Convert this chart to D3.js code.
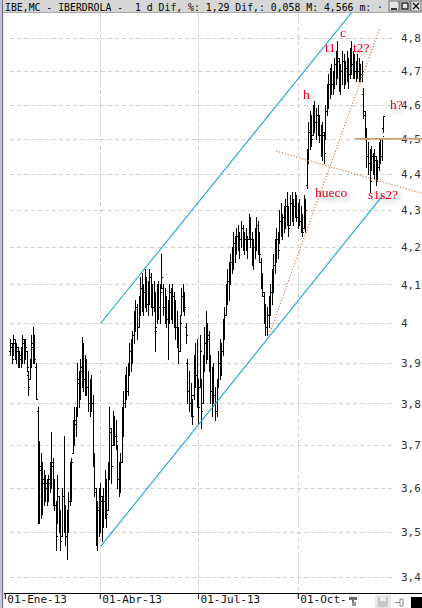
<!DOCTYPE html>
<html>
<head>
<meta charset="utf-8">
<script src="https://cdn.jsdelivr.net/npm/d3@7"></script>
<style>
  html, body { margin: 0; padding: 0; background: #ffffff; }
  svg { display: block; }
</style>
</head>
<body>
<svg id="chart" width="422" height="608"></svg>
<script>
// Daily OHLC bars, IBE.MC (Iberdrola), 2013
const highs = [
  3.96,3.95,3.97,3.96,3.95,3.94,3.93,3.94,3.97,3.96,3.96,3.93,3.88,3.91,3.97,3.99,3.97,3.90,3.79,3.71,
  3.68,3.66,3.64,3.63,3.62,3.63,3.66,3.73,3.67,3.62,3.57,3.63,3.58,3.55,3.60,3.72,3.56,3.55,3.59,3.66,
  3.67,3.76,3.79,3.79,3.90,3.88,3.91,3.965,3.95,3.92,3.91,3.88,3.86,3.87,3.82,3.68,3.60,3.57,3.60,3.61,
  3.58,3.60,3.64,3.62,3.66,3.79,3.74,3.78,3.77,3.76,3.70,3.66,3.68,3.79,3.83,3.87,3.89,3.90,3.95,3.96,
  3.98,4.03,4.06,4.05,4.07,4.12,4.13,4.10,4.14,4.12,4.11,4.14,4.13,4.10,4.11,4.08,4.10,4.11,4.10,4.18,
  4.10,4.09,4.07,4.06,4.10,4.09,4.10,4.08,4.06,4.03,3.99,4.02,4.09,4.10,4.08,4.00,3.91,3.88,3.85,3.81,
  3.92,3.95,3.96,3.86,3.97,3.86,3.92,3.99,4.03,4.00,3.98,3.92,3.89,3.90,3.84,3.86,3.93,3.96,3.95,4.01,
  4.04,4.10,4.14,4.16,4.18,4.20,4.24,4.23,4.25,4.26,4.24,4.27,4.26,4.24,4.25,4.23,4.29,4.28,4.24,4.22,
  4.25,4.28,4.27,4.24,4.17,4.13,4.08,4.05,4.04,4.07,4.10,4.14,4.18,4.22,4.25,4.24,4.30,4.32,4.29,4.31,
  4.33,4.35,4.31,4.34,4.35,4.33,4.35,4.34,4.32,4.33,4.31,4.29,4.34,4.33,4.47,4.55,4.58,4.57,4.60,4.61,
  4.59,4.60,4.57,4.54,4.55,4.52,4.60,4.66,4.69,4.71,4.72,4.70,4.74,4.76,4.79,4.74,4.72,4.76,4.75,4.73,
  4.76,4.74,4.77,4.79,4.76,4.75,4.73,4.75,4.74,4.72,4.73,4.65,4.58,4.53,4.49,4.47,4.48,4.46,4.47,4.45,
  4.44,4.49,4.50,4.50,4.566
];
const lows = [
  3.92,3.90,3.92,3.91,3.90,3.89,3.89,3.89,3.90,3.90,3.91,3.88,3.82,3.86,3.89,3.90,3.90,3.81,3.52,3.52,
  3.53,3.54,3.56,3.57,3.56,3.57,3.59,3.60,3.56,3.55,3.46,3.52,3.50,3.46,3.49,3.50,3.47,3.44,3.50,3.56,
  3.57,3.68,3.70,3.72,3.77,3.79,3.81,3.84,3.83,3.82,3.82,3.78,3.77,3.78,3.65,3.58,3.47,3.46,3.49,3.50,
  3.48,3.51,3.53,3.51,3.55,3.62,3.61,3.70,3.70,3.69,3.60,3.58,3.59,3.66,3.72,3.79,3.81,3.82,3.87,3.88,
  3.90,3.95,3.98,3.96,3.99,4.02,4.03,4.02,4.04,4.03,4.02,4.05,4.04,4.02,4.03,3.93,4.00,4.01,4.00,4.09,
  4.02,4.00,3.99,3.91,4.00,4.01,4.00,3.99,3.96,3.94,3.90,3.93,4.02,4.03,4.02,3.95,3.80,3.78,3.77,3.75,
  3.81,3.84,3.79,3.75,3.84,3.74,3.80,3.88,3.90,3.91,3.88,3.80,3.77,3.80,3.76,3.77,3.84,3.86,3.87,3.92,
  3.96,4.02,4.05,4.06,4.10,4.13,4.14,4.16,4.18,4.19,4.17,4.20,4.19,4.18,4.19,4.17,4.22,4.20,4.15,4.14,
  4.17,4.19,4.18,4.16,4.09,4.07,4.00,3.97,3.97,3.99,4.02,4.05,4.08,4.13,4.16,4.17,4.21,4.23,4.22,4.24,
  4.25,4.26,4.23,4.26,4.27,4.26,4.28,4.27,4.25,4.26,4.24,4.23,4.25,4.24,4.36,4.43,4.47,4.48,4.51,4.52,
  4.50,4.51,4.49,4.45,4.44,4.43,4.50,4.57,4.59,4.62,4.63,4.63,4.65,4.66,4.68,4.64,4.63,4.66,4.65,4.66,
  4.67,4.65,4.68,4.69,4.68,4.68,4.67,4.68,4.67,4.67,4.67,4.56,4.50,4.42,4.40,4.35,4.41,4.40,4.39,4.37,
  4.38,4.41,4.43,4.44,4.52
];
const opens = [
  3.93,3.94,3.92,3.95,3.92,3.93,3.90,3.91,3.92,3.95,3.92,3.93,3.87,3.86,3.90,3.94,3.96,3.89,3.78,3.55,
  3.64,3.58,3.61,3.58,3.60,3.58,3.61,3.64,3.65,3.58,3.56,3.50,3.58,3.52,3.49,3.58,3.53,3.49,3.52,3.57,
  3.62,3.68,3.74,3.75,3.78,3.85,3.82,3.88,3.93,3.86,3.88,3.84,3.80,3.83,3.80,3.67,3.59,3.50,3.55,3.52,
  3.57,3.51,3.57,3.60,3.55,3.64,3.73,3.70,3.76,3.72,3.70,3.62,3.61,3.66,3.77,3.80,3.85,3.83,3.88,3.93,
  3.91,3.97,4.01,4.04,3.99,4.05,4.09,4.06,4.08,4.11,4.05,4.09,4.12,4.06,4.04,4.07,3.99,4.07,4.04,4.10,
  4.09,4.04,4.06,4.01,4.03,4.08,4.03,4.07,4.01,3.99,3.96,3.93,4.02,4.07,4.05,3.99,3.90,3.83,3.80,3.80,
  3.82,3.89,3.87,3.82,3.84,3.85,3.80,3.89,3.95,3.93,3.96,3.90,3.83,3.86,3.82,3.78,3.84,3.90,3.89,3.93,
  3.99,4.02,4.08,4.11,4.14,4.16,4.18,4.21,4.19,4.23,4.21,4.22,4.25,4.21,4.22,4.20,4.22,4.27,4.22,4.17,
  4.20,4.23,4.26,4.20,4.16,4.11,4.07,4.02,3.99,4.02,4.05,4.08,4.12,4.15,4.20,4.22,4.20,4.27,4.25,4.28,
  4.26,4.31,4.28,4.26,4.32,4.29,4.31,4.33,4.28,4.30,4.27,4.28,4.25,4.32,4.37,4.44,4.52,4.55,4.51,4.58,
  4.55,4.57,4.53,4.51,4.47,4.51,4.50,4.58,4.64,4.66,4.69,4.66,4.68,4.72,4.70,4.73,4.67,4.70,4.73,4.68,
  4.71,4.73,4.69,4.75,4.72,4.74,4.70,4.72,4.70,4.71,4.69,4.63,4.57,4.52,4.45,4.43,4.39,4.45,4.42,4.44,
  4.40,4.42,4.47,4.45,4.53
];
const closes = [
  3.95,3.91,3.96,3.92,3.94,3.90,3.92,3.93,3.96,3.91,3.94,3.89,3.84,3.90,3.95,3.96,3.91,3.81,3.56,3.65,
  3.58,3.62,3.58,3.61,3.57,3.62,3.64,3.66,3.58,3.56,3.49,3.60,3.52,3.48,3.58,3.53,3.49,3.52,3.57,3.63,
  3.66,3.74,3.76,3.77,3.86,3.82,3.89,3.93,3.86,3.89,3.84,3.80,3.83,3.80,3.67,3.60,3.50,3.55,3.52,3.58,
  3.51,3.57,3.60,3.54,3.64,3.74,3.65,3.76,3.72,3.71,3.62,3.61,3.66,3.77,3.80,3.85,3.83,3.88,3.93,3.91,
  3.97,4.01,4.04,3.99,4.05,4.09,4.06,4.08,4.12,4.05,4.09,4.12,4.06,4.04,4.08,3.98,4.07,4.04,4.08,4.12,
  4.04,4.07,4.01,4.03,4.08,4.03,4.07,4.01,3.99,3.96,3.93,4.00,4.07,4.05,4.04,3.97,3.83,3.80,3.82,3.77,
  3.89,3.87,3.82,3.79,3.93,3.78,3.89,3.95,3.93,3.97,3.90,3.83,3.86,3.82,3.78,3.84,3.90,3.89,3.93,3.99,
  4.02,4.08,4.11,4.14,4.16,4.18,4.21,4.19,4.23,4.21,4.22,4.25,4.21,4.22,4.20,4.22,4.27,4.22,4.17,4.20,
  4.23,4.26,4.20,4.18,4.11,4.08,4.02,3.99,4.02,4.05,4.08,4.12,4.15,4.20,4.22,4.19,4.27,4.25,4.28,4.26,
  4.31,4.28,4.25,4.32,4.29,4.31,4.33,4.28,4.30,4.27,4.29,4.24,4.32,4.30,4.44,4.52,4.55,4.50,4.58,4.55,
  4.57,4.53,4.51,4.47,4.52,4.46,4.58,4.64,4.66,4.69,4.66,4.68,4.72,4.70,4.74,4.67,4.70,4.73,4.68,4.71,
  4.74,4.69,4.75,4.72,4.74,4.70,4.72,4.70,4.72,4.69,4.70,4.58,4.52,4.45,4.43,4.38,4.45,4.42,4.45,4.40,
  4.42,4.47,4.45,4.508,4.566
];

// Price levels on the right axis
const priceTicks = [3.4,3.5,3.6,3.7,3.8,3.9,4.0,4.1,4.2,4.3,4.4,4.5,4.6,4.7,4.8];
// Month markers, given as positions on the bar index
const monthTickIdx = [-3.4, 58.7, 122.9, 188.1];
const monthLabels = ["01-Ene-13", "01-Abr-13", "01-Jul-13", "01-Oct-13"];

// Drawn studies: [barIndex, price] anchor pairs
const channelUpper = [[59.4, 4.0], [225, 4.889]];
const channelLower = [[59.4, 3.468], [243.8, 4.341]];
const steepSupport = [[168.6, 3.962], [241.8, 4.831]];
const neckline = [[173.9, 4.465], [269.3, 4.346]];
const level450 = [[225.5, 4.5], [269.3, 4.5]];

// Pattern labels
const notes = [
  { t: "c", i: 215.7, p: 4.803 },
  { t: "t1", i: 205.9, p: 4.757 },
  { t: "t2?", i: 224.2, p: 4.757 },
  { t: "h", i: 191.5, p: 4.617 },
  { t: "h?", i: 248.4, p: 4.587 },
  { t: "hueco", i: 199.3, p: 4.336 },
  { t: "s1s2?", i: 234.0, p: 4.33 }
];

const svg = d3.select("#chart");
const W = 422, H = 608;

const x = d3.scaleLinear().domain([0, 244]).range([10, 383.3]);
const y = d3.scaleLog().domain([3.4, 4.8]).range([577, 38]);

const fmt = v => (Math.abs(v - Math.round(v)) < 1e-9 ? String(Math.round(v)) : v.toFixed(1).replace(".", ","));
const px = v => Math.round(v) + 0.5;

// defs: clip to the plot area and a soft shadow for the notes
const defs = svg.append("defs");
defs.append("clipPath").attr("id", "plotClip")
  .append("rect").attr("x", 4).attr("y", 13).attr("width", W - 4).attr("height", 580);
const sh = defs.append("filter").attr("id", "noteShadow")
  .attr("x", "-50%").attr("y", "-50%").attr("width", "220%").attr("height", "220%");
sh.append("feGaussianBlur").attr("in", "SourceAlpha").attr("stdDeviation", 2.6).attr("result", "b");
sh.append("feOffset").attr("in", "b").attr("dx", 3).attr("dy", 3).attr("result", "o");
sh.append("feComponentTransfer").attr("in", "o").attr("result", "s")
  .append("feFuncA").attr("type", "linear").attr("slope", 0.35);
const mg = sh.append("feMerge");
mg.append("feMergeNode").attr("in", "s");
mg.append("feMergeNode").attr("in", "SourceGraphic");

// Left window frame
svg.append("rect").attr("x", 0).attr("y", 0).attr("width", 2).attr("height", H).attr("fill", "#c9c3d6");
svg.append("rect").attr("x", 2).attr("y", 0).attr("width", 1.2).attr("height", H).attr("fill", "#76708a");

// Horizontal grid
svg.append("g").selectAll("line").data(priceTicks).join("line")
  .attr("x1", 10).attr("x2", 394)
  .attr("y1", d => px(y(d))).attr("y2", d => px(y(d)))
  .attr("stroke", "#d2d2d2").attr("stroke-dasharray", "4,3");

// Vertical grid at month markers (except the first)
svg.append("g").selectAll("line").data(monthTickIdx.slice(1)).join("line")
  .attr("x1", d => px(x(d))).attr("x2", d => px(x(d)))
  .attr("y1", 13).attr("y2", 593)
  .attr("stroke", "#d2d2d2").attr("stroke-dasharray", "4,3");

// Price axis labels
const yAxis = d3.axisRight(y).tickValues(priceTicks).tickFormat(fmt).tickSize(0).tickPadding(0);
const gy = svg.append("g").attr("transform", "translate(401,0)").call(yAxis);
gy.select(".domain").remove();
gy.selectAll("text").attr("font-family", "DejaVu Sans Mono, monospace").attr("font-size", 11)
  .attr("fill", "#333").attr("dy", "0.36em");

// OHLC bars
const bars = d3.range(highs.length).map(i => ({ i, o: opens[i], h: highs[i], l: lows[i], c: closes[i] }));
const gb = svg.append("g").attr("clip-path", "url(#plotClip)").attr("stroke", "#000")
  .attr("shape-rendering", "crispEdges").attr("stroke-width", 1);
gb.selectAll("line.hl").data(bars).join("line").attr("class", "hl")
  .attr("x1", d => px(x(d.i))).attr("x2", d => px(x(d.i)))
  .attr("y1", d => Math.round(y(d.h))).attr("y2", d => Math.round(y(d.l)) + 1);
gb.selectAll("line.op").data(bars).join("line").attr("class", "op")
  .attr("x1", d => Math.round(x(d.i)) - 1).attr("x2", d => Math.round(x(d.i)))
  .attr("y1", d => px(y(d.o))).attr("y2", d => px(y(d.o)));
gb.selectAll("line.cl").data(bars).join("line").attr("class", "cl")
  .attr("x1", d => Math.round(x(d.i)) + 1).attr("x2", d => Math.round(x(d.i)) + 2)
  .attr("y1", d => px(y(d.c))).attr("y2", d => px(y(d.c)));

// Studies
const seg = d3.line().x(d => x(d[0])).y(d => y(d[1]));
const gs = svg.append("g").attr("clip-path", "url(#plotClip)").attr("fill", "none");
[channelUpper, channelLower].forEach(s =>
  gs.append("path").attr("d", seg(s)).attr("stroke", "#19a6de").attr("stroke-width", 1.1));
[steepSupport, neckline].forEach(s =>
  gs.append("path").attr("d", seg(s)).attr("stroke", "#cf9468").attr("stroke-width", 1.3)
    .attr("stroke-dasharray", "1.3,1.7"));
gs.append("path").attr("d", seg(level450)).attr("stroke", "#d39c74").attr("stroke-width", 1.6);

// Pattern notes
svg.append("g").selectAll("text").data(notes).join("text")
  .attr("x", d => x(d.i)).attr("y", d => y(d.p))
  .attr("font-family", "Liberation Serif, Times New Roman, serif").attr("font-size", 13.5)
  .attr("fill", "#e3001b").attr("filter", "url(#noteShadow)")
  .text(d => d.t);

// Time axis
const xAxis = d3.axisBottom(x).tickValues(monthTickIdx)
  .tickFormat((d, k) => monthLabels[k]).tickSize(6).tickPadding(0);
const gx = svg.append("g").attr("transform", "translate(0,593)").call(xAxis);
gx.select(".domain").attr("d", "M4,0.5H" + W).attr("stroke", "#000");
gx.selectAll(".tick line").attr("stroke", "#000");
gx.selectAll("text").attr("font-family", "DejaVu Sans Mono, monospace").attr("font-size", 11)
  .attr("fill", "#111").attr("text-anchor", "start").attr("x", 2).attr("y", 2).attr("dy", "0.71em");

// Toolbar corner
const tb = svg.append("g");
tb.append("rect").attr("x", 347.5).attr("y", 594).attr("width", 75).attr("height", 14).attr("fill", "#fff");
tb.append("path").attr("d", "M349,597h8v3h-3v2h-2v-2h-3z").attr("fill", "#6d6d6d");
tb.append("path").attr("d", "M352,602h4v4h-4z").attr("fill", "#9a9a9a");
tb.append("rect").attr("x", 375).attr("y", 595).attr("width", 16).attr("height", 13).attr("fill", "#e6e6e6");
tb.append("rect").attr("x", 378).attr("y", 597).attr("width", 10).attr("height", 10).attr("fill", "#c8c8c8");
tb.append("rect").attr("x", 380).attr("y", 597).attr("width", 6).attr("height", 4).attr("fill", "#eee");
tb.append("path").attr("d", "M395,602.5h5M400,599v7M400,599h3v7h-3").attr("stroke", "#888").attr("fill", "none");
tb.append("rect").attr("x", 411).attr("y", 597).attr("width", 11).attr("height", 11).attr("fill", "#000");

// Title bar
svg.append("rect").attr("x", 3).attr("y", 0).attr("width", W - 3).attr("height", 13).attr("fill", "#d6d6d6");
svg.append("line").attr("x1", 3).attr("x2", W).attr("y1", 12.5).attr("y2", 12.5).attr("stroke", "#a8a8a8");
svg.append("text").attr("x", 5).attr("y", 10.5)
  .attr("font-family", "DejaVu Sans Mono, monospace").attr("font-size", 11).attr("fill", "#000")
  .attr("textLength", 378).attr("lengthAdjust", "spacingAndGlyphs")
  .attr("xml:space", "preserve")
  .text("IBE,MC - IBERDROLA -  1 d Dif, %: 1,29 Dif,: 0,058 M: 4,566 m: \u00b7");

// Window buttons
const wb = svg.append("g");
[389, 400, 411].forEach(bx => {
  wb.append("rect").attr("x", bx).attr("y", 1).attr("width", 10).attr("height", 10)
    .attr("fill", "#e4e4e4").attr("stroke", "#555").attr("stroke-width", 0.8);
});
wb.append("line").attr("x1", 391).attr("x2", 397).attr("y1", 9).attr("y2", 9).attr("stroke", "#000").attr("stroke-width", 1.5);
wb.append("rect").attr("x", 402).attr("y", 3).attr("width", 6).attr("height", 6).attr("fill", "none").attr("stroke", "#000").attr("stroke-width", 1.2);
wb.append("path").attr("d", "M413,3L419,9M419,3L413,9").attr("stroke", "#000").attr("stroke-width", 1.3);
</script>
</body>
</html>
